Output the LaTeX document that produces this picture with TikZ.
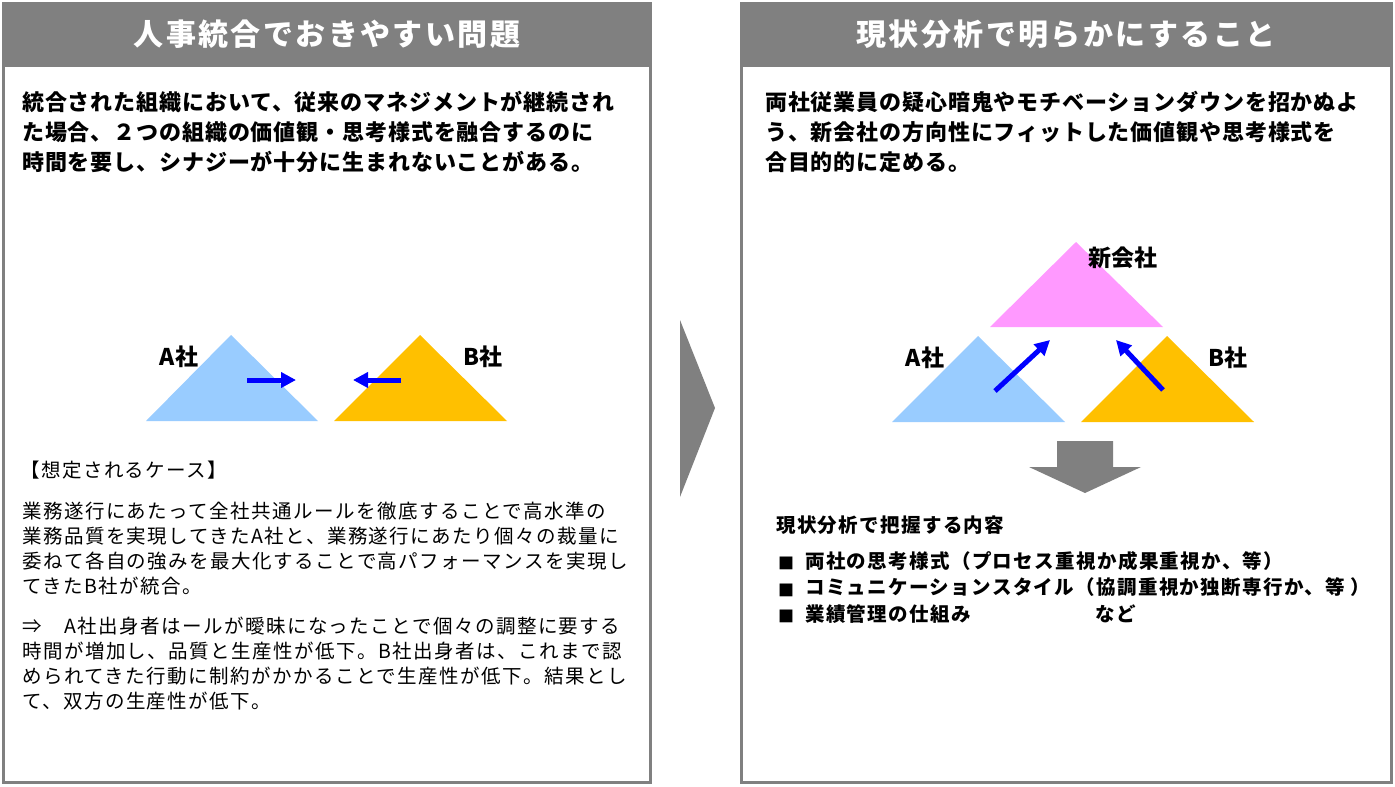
\documentclass[tikz,border=0pt]{standalone}
\usepackage{fontspec}
\setmainfont{Noto Sans CJK JP}
\usetikzlibrary{arrows.meta}
\definecolor{hdr}{HTML}{808080}
\definecolor{lblue}{HTML}{99CCFF}
\definecolor{lorange}{HTML}{FFC000}
\definecolor{lpink}{HTML}{FF99FF}
\definecolor{aroblue}{HTML}{0000FF}
\tikzset{
  paneltitle/.style={text=white, inner sep=0pt, font=\fontsize{30}{34}\selectfont\bfseries\addfontfeature{LetterSpace=8}},
  leadtext/.style={anchor=north west, inner sep=0pt, align=left, font=\fontsize{22}{30}\selectfont\bfseries\addfontfeature{LetterSpace=4}},
  casetext/.style={anchor=north west, inner sep=0pt, align=left, font=\fontsize{19.5}{25}\selectfont\addfontfeature{LetterSpace=7.5}},
  listtext/.style={anchor=north west, inner sep=0pt, align=left, font=\fontsize{19.5}{26.5}\selectfont\bfseries\addfontfeature{LetterSpace=7}},
  complabel/.style={inner sep=0pt, font=\fontsize{23}{25}\selectfont\bfseries},
  bluearrow/.style={draw=aroblue, line width=5pt, -{Triangle[length=15pt,width=15pt]}},
  panelframe/.style={draw=hdr, line width=3pt},
}
\begin{document}
\begin{tikzpicture}[x=1pt,y=-1pt]
\useasboundingbox (0,0) rectangle (1395,787);
\fill[white] (0,0) rectangle (1395,787);

% ---- left panel ----
\fill[hdr] (2,2) rectangle (652,67);
\draw[panelframe] (3.5,3.5) rectangle (650.5,782.5);
\node[paneltitle] (lt) at (327,34) {人事統合でおきやすい問題};
\node[leadtext] (lb) at (22,91) {統合された組織において、従来のマネジメントが継続され\\た場合、２つの組織の価値観・思考様式を融合するのに\\時間を要し、シナジーが十分に生まれないことがある。};

\fill[lblue] (146,421) -- (231,335) -- (318,421) -- cycle;
\fill[lorange] (334,421) -- (420,335) -- (507,421) -- cycle;
\node[complabel] (la) at (179,357) {A社};
\node[complabel] (lbb) at (483,357) {B社};
\coordinate (la1) at (247,380);
\coordinate (la2) at (296,380);
\coordinate (lb1) at (401,380);
\coordinate (lb2) at (353,380);
\draw[bluearrow] (la1) -- (la2);
\draw[bluearrow] (lb1) -- (lb2);

\node[casetext, anchor=west] (ch) at (20,470) {【想定されるケース】};
\node[casetext] (c1) at (22,502) {業務遂行にあたって全社共通ルールを徹底することで高水準の\\業務品質を実現してきたA社と、業務遂行にあたり個々の裁量に\\委ねて各自の強みを最大化することで高パフォーマンスを実現し\\てきたB社が統合。};
\node[casetext] (c2) at (22,617) {⇒　A社出身者はールが曖昧になったことで個々の調整に要する\\時間が増加し、品質と生産性が低下。B社出身者は、これまで認\\められてきた行動に制約がかかることで生産性が低下。結果とし\\て、双方の生産性が低下。};

% ---- chevron ----
\fill[hdr] (680,320) -- (715,408) -- (680,497) -- cycle;

% ---- right panel ----
\fill[hdr] (740,2) rectangle (1393,67);
\draw[panelframe] (741.5,3.5) rectangle (1391.5,782.5);
\node[paneltitle] (rt) at (1066,34) {現状分析で明らかにすること};
\node[leadtext] (rb) at (765,91) {両社従業員の疑心暗鬼やモチベーションダウンを招かぬよ\\う、新会社の方向性にフィットした価値観や思考様式を\\合目的的に定める。};

\fill[lpink] (990,327) -- (1076,242) -- (1163,327) -- cycle;
\fill[lblue] (892,422) -- (978,336) -- (1065,422) -- cycle;
\fill[lorange] (1081,422) -- (1167,336) -- (1254,422) -- cycle;
\node[complabel] (rn) at (1123,258) {新会社};
\node[complabel] (ra) at (925,358) {A社};
\node[complabel] (rbb) at (1228,358) {B社};
\coordinate (ra1) at (995,391);
\coordinate (ra2) at (1050,340);
\coordinate (rb1) at (1163,390);
\coordinate (rb2) at (1116,340);
\draw[bluearrow] (ra1) -- (ra2);
\draw[bluearrow] (rb1) -- (rb2);

\fill[hdr] (1057,441) -- (1113,441) -- (1113,467) -- (1141,467) -- (1085,493) -- (1029,467) -- (1057,467) -- cycle;

\node[listtext, anchor=west] (lh) at (776,525) {現状分析で把握する内容};
\node[listtext] (li) at (805,551) {両社の思考様式（プロセス重視か成果重視か、等）\\コミュニケーションスタイル（協調重視か独断専行か、等 ）\\\makebox[290pt][l]{業績管理の仕組み}など};
\foreach \yy/\nm in {563/b1,590/b2,616/b3}
  \node[inner sep=0pt, font=\fontsize{16}{16}\selectfont] (\nm) at (786,\yy) {■};
\end{tikzpicture}
\end{document}
